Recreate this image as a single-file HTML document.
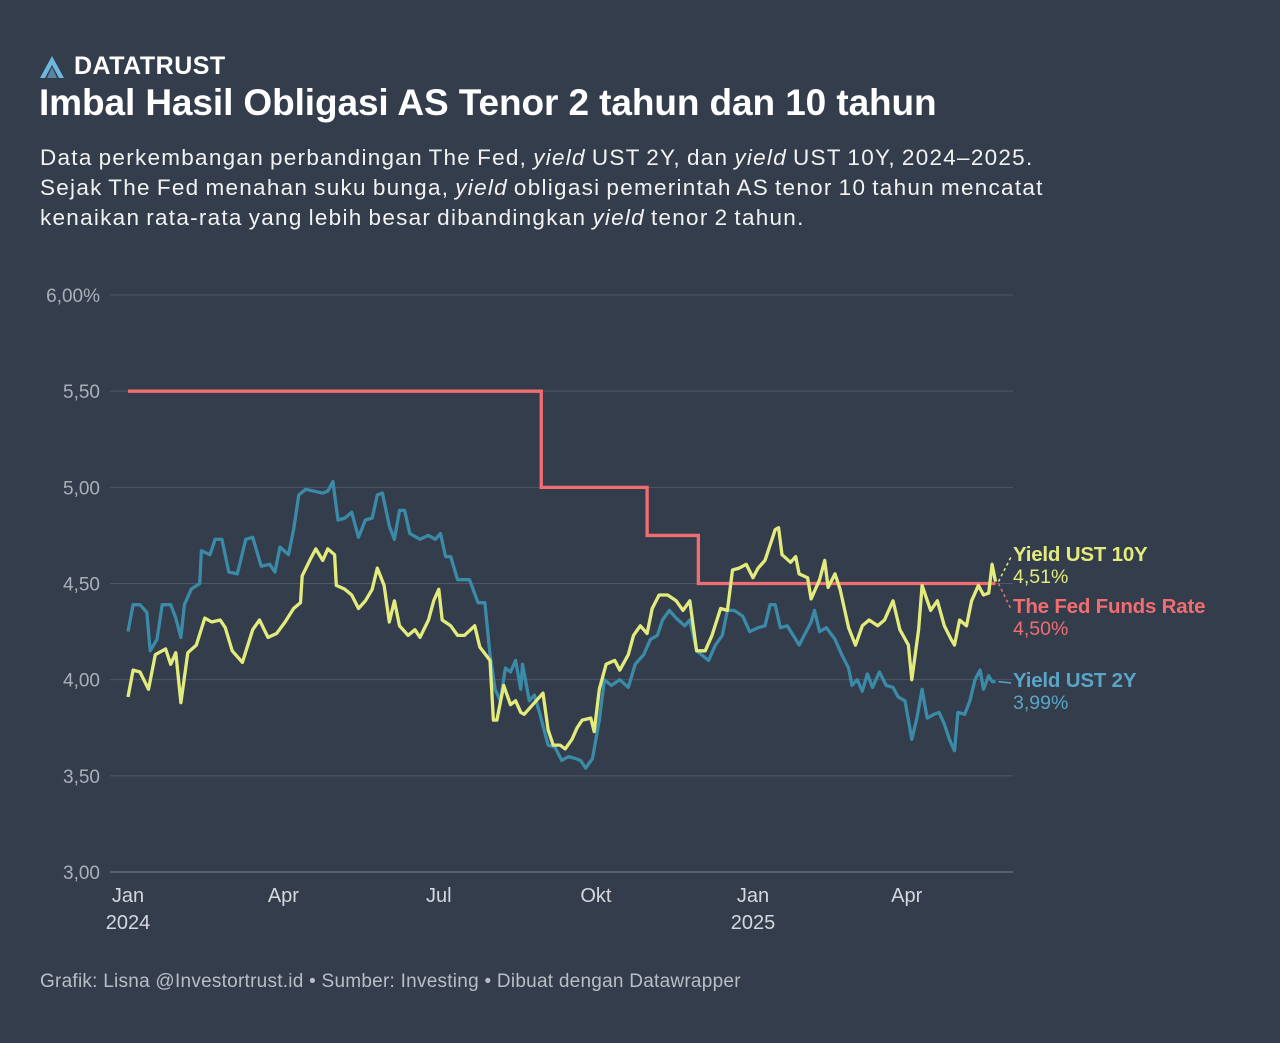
<!DOCTYPE html>
<html><head><meta charset="utf-8"><style>
html,body{margin:0;padding:0;background:#333d4c;}
body{width:1280px;height:1043px;position:relative;overflow:hidden;font-family:"Liberation Sans",sans-serif;color:#fff;}
.abs{position:absolute;}
#brand{left:40px;top:52px;font-size:25px;font-weight:bold;letter-spacing:0.5px;display:flex;align-items:center;gap:10px}
#title{left:39px;top:82px;font-size:37px;font-weight:bold;letter-spacing:-0.1px;}
#desc{left:40px;top:143px;font-size:22.5px;line-height:30px;color:#f2f2f2;letter-spacing:1.27px;word-spacing:-1.5px;white-space:nowrap}
#foot{left:40px;top:971px;font-size:19px;color:#b9bec6;letter-spacing:0.25px;}
svg{position:absolute;left:0;top:0}
</style></head><body>
<div id="brand" class="abs"><svg style="position:static" width="24" height="22" viewBox="0 0 24 22"><path d="M12 0 L24 22 L19 22 L12 9 L5 22 L0 22 Z" fill="#6fb7de"/><path d="M12 11 L17 22 L7 22 Z" fill="#6fb7de" opacity="0.6"/></svg><span>DATATRUST</span></div>
<div id="title" class="abs">Imbal Hasil Obligasi AS Tenor 2 tahun dan 10 tahun</div>
<div id="desc" class="abs">Data perkembangan perbandingan The Fed, <i>yield</i> UST 2Y, dan <i>yield</i> UST 10Y, 2024–2025.<br>Sejak The Fed menahan suku bunga, <i>yield</i> obligasi pemerintah AS tenor 10 tahun mencatat<br>kenaikan rata-rata yang lebih besar dibandingkan <i>yield</i> tenor 2 tahun.</div>
<div id="foot" class="abs">Grafik: Lisna @Investortrust.id • Sumber: Investing • Dibuat dengan Datawrapper</div>
<svg id="chart" width="1280" height="1043"></svg>
<script>
const yTicks=[3,3.5,4,4.5,5,5.5,6];
const yTickLabels=["3,00","3,50","4,00","4,50","5,00","5,50","6,00%"];
const xTickDays=[0,91,182,274,366,456];
const xTickLabels=["Jan","Apr","Jul","Okt","Jan","Apr"];
const xTickYears=["2024","","","","2025",""];
const fedDays=[0,242,304,334,508];
const fedRates=[5.5,5.0,4.75,4.5,4.5];
const days10y=[0,3,7,12,16,22,25,28,31,35,40,45,49,54,57,61,67,73,77,82,87,92,97,101,102,107,110,114,117,121,122,127,131,135,139,143,146,150,153,156,159,164,168,171,176,179,182,184,189,193,197,203,206,212,214,216,220,224,227,230,232,237,243,246,249,253,256,260,263,266,271,273,276,280,285,288,293,296,300,304,307,311,316,321,325,329,333,338,342,347,351,354,358,362,366,369,373,376,379,381,383,388,391,393,398,400,405,408,410,414,417,422,426,430,434,439,443,448,452,457,459,463,465,470,474,478,482,484,487,491,494,498,501,504,506,508];
const vals10y=[3.91,4.05,4.04,3.95,4.13,4.16,4.08,4.14,3.88,4.14,4.18,4.32,4.30,4.31,4.27,4.15,4.09,4.26,4.31,4.22,4.24,4.30,4.37,4.40,4.54,4.63,4.68,4.62,4.68,4.65,4.49,4.47,4.44,4.37,4.41,4.47,4.58,4.49,4.30,4.41,4.28,4.23,4.26,4.22,4.31,4.41,4.47,4.31,4.28,4.23,4.23,4.28,4.17,4.10,3.79,3.79,3.97,3.87,3.89,3.83,3.82,3.87,3.93,3.74,3.66,3.66,3.64,3.69,3.75,3.79,3.80,3.73,3.95,4.08,4.10,4.05,4.13,4.23,4.28,4.24,4.37,4.44,4.44,4.41,4.36,4.41,4.15,4.15,4.23,4.37,4.36,4.57,4.58,4.60,4.53,4.58,4.62,4.70,4.78,4.79,4.65,4.61,4.64,4.55,4.53,4.42,4.52,4.62,4.48,4.55,4.47,4.27,4.18,4.28,4.31,4.28,4.31,4.41,4.26,4.18,4.00,4.26,4.49,4.36,4.41,4.28,4.21,4.18,4.31,4.28,4.41,4.49,4.44,4.45,4.60,4.51];
const days2y=[0,3,7,11,13,17,20,25,28,31,33,37,42,43,48,51,55,59,64,69,73,78,83,86,89,94,97,100,104,109,114,117,120,123,127,131,135,139,143,146,149,153,156,159,162,165,171,176,180,183,186,189,193,197,200,205,209,212,215,218,221,224,227,230,231,235,238,241,246,250,254,258,262,265,268,272,276,279,283,288,293,297,302,306,310,313,317,321,326,329,333,340,344,348,351,355,360,364,369,373,376,379,382,386,391,393,396,400,402,405,409,414,418,422,424,427,430,433,436,440,444,448,451,455,459,462,465,468,472,475,478,481,484,486,490,493,496,499,501,504,506,508];
const vals2y=[4.25,4.39,4.39,4.35,4.15,4.21,4.39,4.39,4.32,4.22,4.39,4.47,4.50,4.67,4.65,4.73,4.73,4.56,4.55,4.73,4.74,4.59,4.60,4.56,4.69,4.65,4.78,4.96,4.99,4.98,4.97,4.98,5.03,4.83,4.84,4.87,4.74,4.83,4.84,4.96,4.97,4.80,4.73,4.88,4.88,4.76,4.73,4.75,4.73,4.76,4.64,4.64,4.52,4.52,4.52,4.40,4.40,4.13,3.95,3.89,4.06,4.04,4.10,3.95,4.08,3.89,3.92,3.83,3.66,3.65,3.58,3.60,3.59,3.58,3.54,3.59,3.79,4.00,3.97,4.00,3.96,4.08,4.13,4.21,4.23,4.31,4.36,4.32,4.28,4.31,4.15,4.10,4.18,4.23,4.36,4.36,4.33,4.25,4.27,4.28,4.39,4.39,4.27,4.28,4.21,4.18,4.23,4.30,4.36,4.25,4.27,4.21,4.13,4.06,3.97,4.00,3.94,4.03,3.96,4.04,3.97,3.96,3.91,3.89,3.69,3.80,3.95,3.80,3.82,3.83,3.77,3.69,3.63,3.83,3.82,3.89,4.00,4.05,3.95,4.02,3.99,3.99];

const NS="http://www.w3.org/2000/svg";
const svg=document.getElementById('chart');
const x=d=>128+d*(625/366);
const y=v=>872-(v-3)*192.33;
function mk(tag,attrs,parent){const e=document.createElementNS(NS,tag);for(const k in attrs)e.setAttribute(k,attrs[k]);(parent||svg).appendChild(e);return e;}
yTicks.forEach((t,i)=>{
  const g=mk('line',{x1:110,x2:1013,y1:y(t),y2:y(t),stroke:i===0?'#7b828d':'#4f5868','stroke-width':1});
  
  
  const tx=mk('text',{x:100,y:y(t)+7,'text-anchor':'end','font-size':19,fill:'#aab0b9','font-family':'Liberation Sans, sans-serif'});
  tx.textContent=yTickLabels[i];
  
  
});
xTickDays.forEach((d,i)=>{
  const tx=mk('text',{x:x(d),y:902,'text-anchor':'middle','font-size':20,fill:'#d4d8de','font-family':'Liberation Sans, sans-serif'});
  tx.textContent=xTickLabels[i];
  
  
  if(xTickYears[i]){const ty=mk('text',{x:x(d),y:929,'text-anchor':'middle','font-size':20,fill:'#d4d8de','font-family':'Liberation Sans, sans-serif'});ty.textContent=xTickYears[i];
  
  }
});
function linePath(ds,vs){return ds.map((d,i)=>(i?'L':'M')+x(d).toFixed(1)+' '+y(vs[i]).toFixed(1)).join(' ');}
function stepPath(ds,vs){let p='M'+x(ds[0])+' '+y(vs[0]);for(let i=1;i<ds.length;i++){p+=' L'+x(ds[i])+' '+y(vs[i-1])+' L'+x(ds[i])+' '+y(vs[i]);}return p;}
const p2=mk('path',{d:linePath(days2y,vals2y),fill:'none',stroke:'#3b8aa7','stroke-width':3.3,'stroke-linejoin':'round'});


const pf=mk('path',{d:stepPath(fedDays,fedRates),fill:'none',stroke:'#f26d6f','stroke-width':3.3});


const p10=mk('path',{d:linePath(days10y,vals10y),fill:'none',stroke:'#e3eb7c','stroke-width':3.3,'stroke-linejoin':'round'});


const lx=1013;
const labels=[
 {name:'Yield UST 10Y',val:'4,51%',c:'#e3eb7c',ty:561,v:vals10y[vals10y.length-1]},
 {name:'The Fed Funds Rate',val:'4,50%',c:'#f26d6f',ty:613,v:fedRates[fedRates.length-1]},
 {name:'Yield UST 2Y',val:'3,99%',c:'#5aa5c6',ty:687,v:vals2y[vals2y.length-1]}];
labels.forEach((l,i)=>{
  const ex=x(days10y[days10y.length-1]);
  const ln=mk('line',{x1:ex+3,y1:y(l.v),x2:lx-2,y2:l.ty-4,stroke:l.c,'stroke-width':1.5,'stroke-dasharray':i===2?'none':'3,3'});
  
  
  const t=mk('text',{x:lx,y:l.ty,'font-size':20.5,'font-weight':'bold',fill:l.c,'font-family':'Liberation Sans, sans-serif','letter-spacing':'-0.2'});
  t.textContent=l.name;
  
  
  const t2=mk('text',{x:lx,y:l.ty+22,'font-size':19.5,fill:l.c,'font-family':'Liberation Sans, sans-serif'});
  t2.textContent=l.val;
  
  
});
</script>
</body></html>
